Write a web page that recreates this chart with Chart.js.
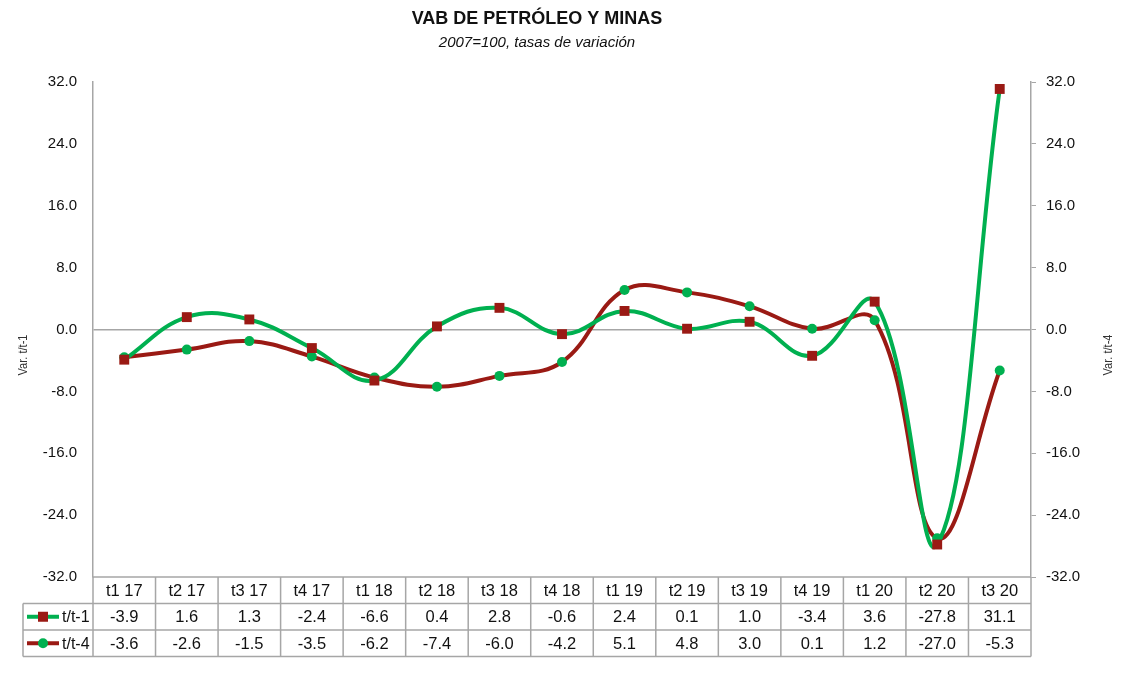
<!DOCTYPE html>
<html lang="es">
<head>
<meta charset="UTF-8">
<title>VAB de petróleo y minas</title>
<script src="https://cdn.jsdelivr.net/npm/chart.js"></script>
<style>
    html, body { margin: 0; padding: 0; background: #fff; }
    #wrap { width: 1136px; height: 680px; }
</style>
</head>
<body>
<div id="wrap"><canvas id="chart"></canvas></div>
<script>
// datos
const categorias = ['t1 17','t2 17','t3 17','t4 17','t1 18','t2 18','t3 18','t4 18',
                    't1 19','t2 19','t3 19','t4 19','t1 20','t2 20','t3 20'];
const varT1 = [-3.9, 1.6, 1.3, -2.4, -6.6, 0.4, 2.8, -0.6, 2.4, 0.1, 1.0, -3.4, 3.6, -27.8, 31.1];
const varT4 = [-3.6, -2.6, -1.5, -3.5, -6.2, -7.4, -6.0, -4.2, 5.1, 4.8, 3.0, 0.1, 1.2, -27.0, -5.3];
const nombres = ['t/t-1', 't/t-4'];
const titulo = 'VAB DE PETRÓLEO Y MINAS';
const subtitulo = '2007=100, tasas de variación';

const VERDE = '#00B050';
const ROJO = '#9A1A14';
const GRIS = '#A6A6A6';
const TXT = '#111';
const FUENTE = 'Arial, "Liberation Sans", sans-serif';

// texto estrecho para los titulos de eje
function textoEstrecho(ctx, t, x, y, align, rot) {
    ctx.save();
    ctx.translate(x, y);
    if (rot) ctx.rotate(rot);
    ctx.scale(0.85, 1);
    ctx.textAlign = align;
    ctx.fillText(t, 0, 0);
    ctx.restore();
}

// tabla de datos y titulos
const tablaPlugin = {
    id: 'tabla',
    afterDraw(chart) {
        const ctx = chart.ctx;
        const x = chart.scales.x;
        const area = chart.chartArea;
        const top = area.bottom;
        const rowH = 26.5;
        const legLeft = 23;
        const colW = (area.right - area.left) / categorias.length;

        ctx.save();
        ctx.textBaseline = 'middle';
        ctx.fillStyle = TXT;
        ctx.textAlign = 'center';
        ctx.font = 'bold 18px ' + FUENTE;
        ctx.fillText(titulo, 537, 19);
        ctx.font = 'italic 15px ' + FUENTE;
        ctx.fillText(subtitulo, 537, 43);

        // titulos de los ejes (de abajo hacia arriba)
        ctx.font = '13px ' + FUENTE;
        ctx.fillStyle = '#333';
        textoEstrecho(ctx, 'Var. t/t-1', 23, 355, 'center', -Math.PI / 2);
        textoEstrecho(ctx, 'Var. t/t-4', 1108, 355, 'center', -Math.PI / 2);

        // lineas de la tabla
        ctx.strokeStyle = GRIS;
        ctx.lineWidth = 1.5;
        ctx.beginPath();
        ctx.moveTo(area.left, top); ctx.lineTo(area.right, top);
        for (let r = 1; r <= 3; r++) {
            ctx.moveTo(legLeft, top + r * rowH); ctx.lineTo(area.right, top + r * rowH);
        }
        for (let i = 0; i <= categorias.length; i++) {
            const xx = area.left + i * colW;
            ctx.moveTo(xx, top); ctx.lineTo(xx, top + 3 * rowH);
        }
        ctx.moveTo(legLeft, top + rowH); ctx.lineTo(legLeft, top + 3 * rowH);
        ctx.stroke();

        // textos de la tabla
        ctx.fillStyle = TXT;
        ctx.textAlign = 'center';
        ctx.font = '16.5px ' + FUENTE;
        const series = [varT1, varT4];
        categorias.forEach((c, i) => {
            const cx = x.getPixelForValue(i);
            ctx.fillText(c, cx, top + rowH / 2 + 1);
            series.forEach((s, k) => {
                ctx.fillText(s[i].toFixed(1), cx, top + (k + 1.5) * rowH + 1);
            });
        });

        // leyenda dentro de la tabla
        const muestras = [
            { linea: VERDE, marca: ROJO, forma: 'rect' },
            { linea: ROJO, marca: VERDE, forma: 'circle' }
        ];
        ctx.font = '16px ' + FUENTE;
        muestras.forEach((m, k) => {
            const y = top + (k + 1.5) * rowH;
            ctx.strokeStyle = m.linea;
            ctx.lineWidth = 4;
            ctx.beginPath();
            ctx.moveTo(27, y); ctx.lineTo(59, y);
            ctx.stroke();
            ctx.fillStyle = m.marca;
            if (m.forma === 'rect') {
                ctx.fillRect(38, y - 5, 10, 10);
            } else {
                ctx.beginPath();
                ctx.arc(43, y, 5, 0, Math.PI * 2);
                ctx.fill();
            }
            ctx.fillStyle = TXT;
            ctx.textAlign = 'left';
            ctx.fillText(nombres[k], 62, y + 1);
        });
        ctx.restore();
    }
};

const yTicks = {
    stepSize: 8,
    color: TXT,
    font: { family: FUENTE, size: 15 },
    callback: v => v.toFixed(1)
};

new Chart(document.getElementById('chart'), {
    type: 'line',
    data: {
        labels: categorias,
        datasets: [
            {
                label: nombres[0],
                data: varT1,
                yAxisID: 'y',
                borderColor: VERDE,
                borderWidth: 4,
                tension: 0.4,
                pointStyle: 'rect',
                pointRadius: 7,
                pointBackgroundColor: ROJO,
                pointBorderColor: ROJO,
                pointBorderWidth: 0,
                order: 1
            },
            {
                label: nombres[1],
                data: varT4,
                yAxisID: 'y2',
                borderColor: ROJO,
                borderWidth: 4,
                tension: 0.4,
                pointStyle: 'circle',
                pointRadius: 5,
                pointBackgroundColor: VERDE,
                pointBorderColor: VERDE,
                pointBorderWidth: 0,
                order: 2
            }
        ]
    },
    options: {
        responsive: true,
        maintainAspectRatio: false,
        animation: false,
        layout: { padding: { top: 82, left: 0, right: 0, bottom: 0 } },
        plugins: {
            legend: { display: false },
            tooltip: { enabled: false }
        },
        scales: {
            x: {
                offset: true,
                ticks: { display: false },
                grid: { display: false },
                border: { display: false },
                afterFit: s => { s.height = 103; }
            },
            y: {
                position: 'left',
                min: -32, max: 32,
                ticks: Object.assign({ padding: 16 }, yTicks),
                grid: {
                    drawTicks: false,
                    color: c => c.tick && c.tick.value === 0 ? GRIS : 'rgba(0,0,0,0)',
                    lineWidth: 1.5
                },
                border: { color: GRIS, width: 1.5 },
                afterFit: s => { s.width = 93; }
            },
            y2: {
                position: 'right',
                min: -32, max: 32,
                ticks: Object.assign({ padding: 10 }, yTicks),
                grid: {
                    drawOnChartArea: false,
                    drawTicks: true,
                    tickLength: 5,
                    color: GRIS
                },
                border: { color: GRIS, width: 1.5 },
                afterFit: s => { s.width = 105; }
            }
        }
    },
    plugins: [tablaPlugin]
});
</script>
</body>
</html>
